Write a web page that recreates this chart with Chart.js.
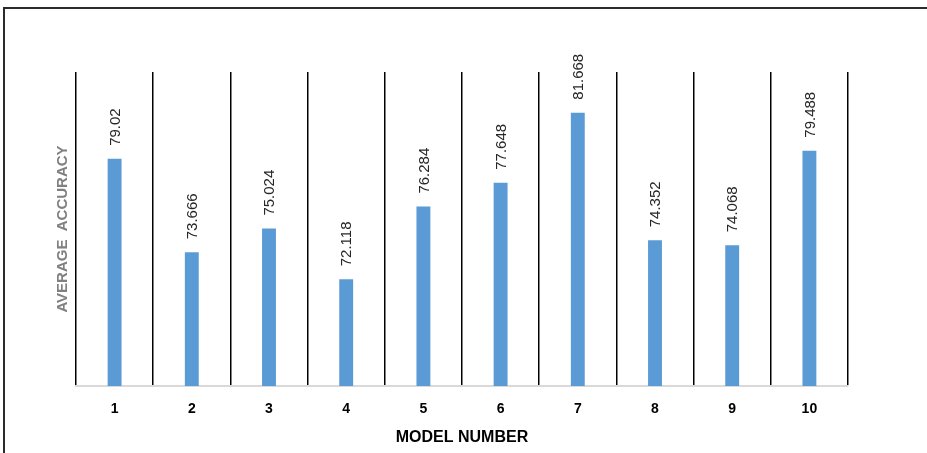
<!DOCTYPE html>
<html>
<head>
<meta charset="utf-8">
<script src="https://cdn.jsdelivr.net/npm/chart.js@4"></script>
<style>
  html, body { margin: 0; padding: 0; background: #fff; }
  #wrap { position: relative; width: 927px; height: 453px; }
  #frame { position: absolute; left: 3px; top: 7px; right: 0; bottom: 0;
           border-top: 2px solid #2b2b2b; border-left: 2px solid #2b2b2b; }
  canvas { position: absolute; left: 0; top: 0; }
</style>
</head>
<body>
<div id="wrap">
  <div id="frame"></div>
  <canvas id="myChart" width="927" height="453"></canvas>
</div>
<script>
var models = ["1", "2", "3", "4", "5", "6", "7", "8", "9", "10"];
var accuracy = [79.02, 73.666, 75.024, 72.118, 76.284, 77.648, 81.668, 74.352, 74.068, 79.488];
var valueLabels = ["79.02", "73.666", "75.024", "72.118", "76.284", "77.648", "81.668", "74.352", "74.068", "79.488"];

// writes the value above each bar, turned on its side
var barLabels = {
    id: 'barLabels',
    afterDatasetsDraw: function(chart) {
        var ctx = chart.ctx;
        var meta = chart.getDatasetMeta(0);
        ctx.save();
        ctx.font = '15px "Liberation Sans", Arial, sans-serif';
        ctx.fillStyle = '#262626';
        ctx.textAlign = 'left';
        ctx.textBaseline = 'middle';
        meta.data.forEach(function(bar, i) {
            ctx.save();
            ctx.translate(bar.x, bar.y - 13);
            ctx.rotate(-Math.PI / 2);
            ctx.fillText(valueLabels[i], 0, 1);
            ctx.restore();
        });
        ctx.restore();
    }
};

var ctx = document.getElementById('myChart').getContext('2d');
var chart = new Chart(ctx, {
    type: 'bar',
    data: {
        labels: models,
        datasets: [{
            data: accuracy,
            backgroundColor: '#5b9bd5',
            categoryPercentage: 1,
            barPercentage: 0.18
        }]
    },
    options: {
        responsive: false,
        animation: false,
        layout: { padding: { left: 0, right: 79, top: 72, bottom: 0 } },
        plugins: { legend: { display: false }, tooltip: { enabled: false } },
        scales: {
            x: {
                grid: { display: true, offset: true, color: '#000', lineWidth: 1.5, drawTicks: false },
                border: { display: true, color: '#d9d9d9', width: 2 },
                ticks: {
                    color: '#000',
                    padding: 15,
                    font: { family: '"Liberation Sans", Arial, sans-serif', size: 14, weight: 'bold' }
                },
                title: {
                    display: true,
                    text: 'MODEL NUMBER',
                    color: '#000',
                    padding: { top: 0, bottom: 6 },
                    font: { family: '"Liberation Sans", Arial, sans-serif', size: 16, weight: 'bold' }
                },
                afterFit: function(scale) { scale.height = 67; }
            },
            y: {
                min: 66,
                max: 84,
                grid: { display: false },
                border: { display: false },
                ticks: { display: false },
                title: {
                    display: true,
                    text: 'AVERAGE  ACCURACY',
                    color: '#808080',
                    padding: { top: 54, bottom: 0 },
                    font: { family: '"Liberation Sans", Arial, sans-serif', size: 15, weight: 'bold' }
                },
                afterFit: function(scale) { scale.width = 76; }
            }
        }
    },
    plugins: [barLabels]
});
</script>
</body>
</html>
